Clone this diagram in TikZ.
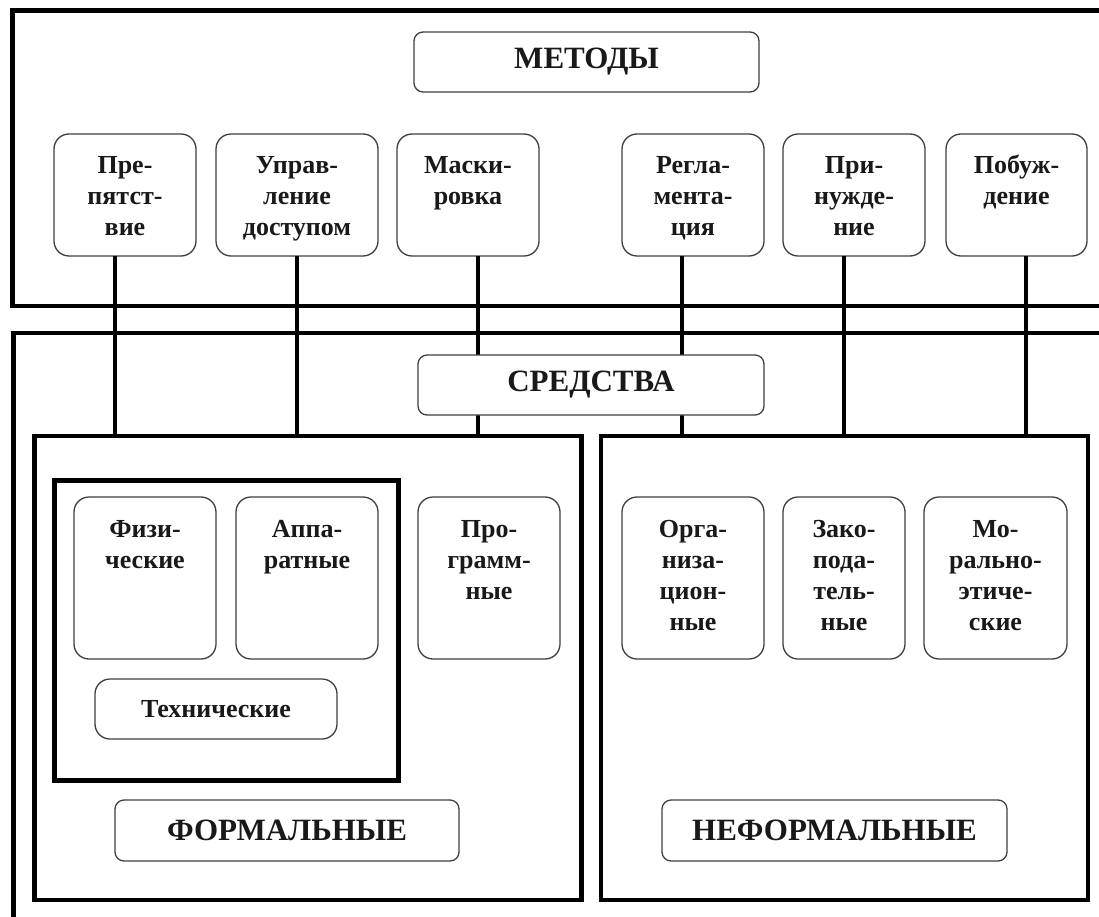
\documentclass[tikz,border=0pt]{standalone}
\usepackage{fontspec}
\setmainfont{Liberation Serif}
\newcommand{\tbx}[3]{\parbox[c][#2pt][t]{#1pt}{\centering\fontsize{26}{31}\selectfont\bfseries\rule{0pt}{40pt}#3\par}}
\begin{document}
\begin{tikzpicture}[x=1pt,y=-1pt,
  frameline/.style={line width=4.5pt, line join=miter},
  link/.style={line width=4.5pt},
  rbox/.style={draw=black!75, line width=1.3pt, rounded corners=15pt, fill=white, inner sep=0pt, outer sep=0pt, anchor=north west, text=black!90},
  lbox/.style={draw=black!75, line width=1.3pt, rounded corners=9pt, fill=white, inner sep=0pt, outer sep=0pt, anchor=north west, font=\fontsize{31}{34}\selectfont\bfseries, text=black!90},
  region/.style={draw, line width=4.5pt, inner sep=0pt, outer sep=0pt, anchor=north west},
]
\clip (0,0) rectangle (1099,917);
\fill[white] (0,0) rectangle (1099,917);
% outer frames (open to the right / bottom)
\draw[frameline] (1110,10.5) -- (12.5,10.5) -- (12.5,306) -- (1110,306);
\draw[frameline] (1110,333) -- (13.3,333) -- (13.3,930);

% METHODS
\node[lbox, minimum width=345, minimum height=60] (metody) at (414,32) {МЕТОДЫ};
\node[rbox] (pre)  at (54,134)  {\tbx{142}{122}{Пре-\\пятст-\\вие}};
\node[rbox] (upr)  at (216,134) {\tbx{162}{122}{Управ-\\ление\\доступом}};
\node[rbox] (mask) at (397,134) {\tbx{142}{122}{Маски-\\ровка}};
\node[rbox] (regl) at (622,134) {\tbx{142}{122}{Регла-\\мента-\\ция}};
\node[rbox] (prin) at (783,134) {\tbx{142}{122}{При-\\нужде-\\ние}};
\node[rbox] (pobu) at (946,134) {\tbx{141}{122}{Побуж-\\дение}};

% regions
\node[region, minimum width=547, minimum height=464] (formal) at (34.5,436) {};
\node[region, minimum width=487, minimum height=464] (informal) at (601,436) {};
\node[region, line width=5pt, minimum width=344, minimum height=300] (techgrp) at (54,480) {};

% connectors
\draw[link] ([xshift=-10pt]pre.south) -- ([xshift=-10pt]pre.south |- formal.north);
\draw[link] (upr.south) -- (upr.south |- formal.north);
\draw[link] ([xshift=10pt]mask.south) -- ([xshift=10pt]mask.south |- formal.north);
\draw[link] ([xshift=-11pt]regl.south) -- ([xshift=-11pt]regl.south |- informal.north);
\draw[link] ([xshift=-10pt]prin.south) -- ([xshift=-10pt]prin.south |- informal.north);
\draw[link] ([xshift=9.5pt]pobu.south) -- ([xshift=9.5pt]pobu.south |- informal.north);

% MEANS
\node[lbox, minimum width=346, minimum height=60] (sredstva) at (418,355) {СРЕДСТВА};

% formal contents
\node[rbox] (fiz)  at (74,497)  {\tbx{142}{162}{Физи-\\ческие}};
\node[rbox] (app)  at (236,497) {\tbx{142}{162}{Аппа-\\ратные}};
\node[rbox] (prog) at (418,497) {\tbx{142}{162}{Про-\\грамм-\\ные}};
\node[rbox, minimum width=242, minimum height=60, font=\fontsize{26}{31}\selectfont\bfseries] (tech) at (95,679) {Технические};
\node[lbox, minimum width=344, minimum height=61] (formlbl) at (115,800) {ФОРМАЛЬНЫЕ};

% informal contents
\node[rbox] (org) at (622,497) {\tbx{142}{162}{Орга-\\низа-\\цион-\\ные}};
\node[rbox] (zak) at (783,497) {\tbx{122}{162}{Зако-\\пода-\\тель-\\ные}};
\node[rbox] (mor) at (924,497) {\tbx{143}{162}{Мо-\\рально-\\этиче-\\ские}};
\node[lbox, minimum width=345, minimum height=61] (informlbl) at (662,800) {НЕФОРМАЛЬНЫЕ};
\end{tikzpicture}
\end{document}
